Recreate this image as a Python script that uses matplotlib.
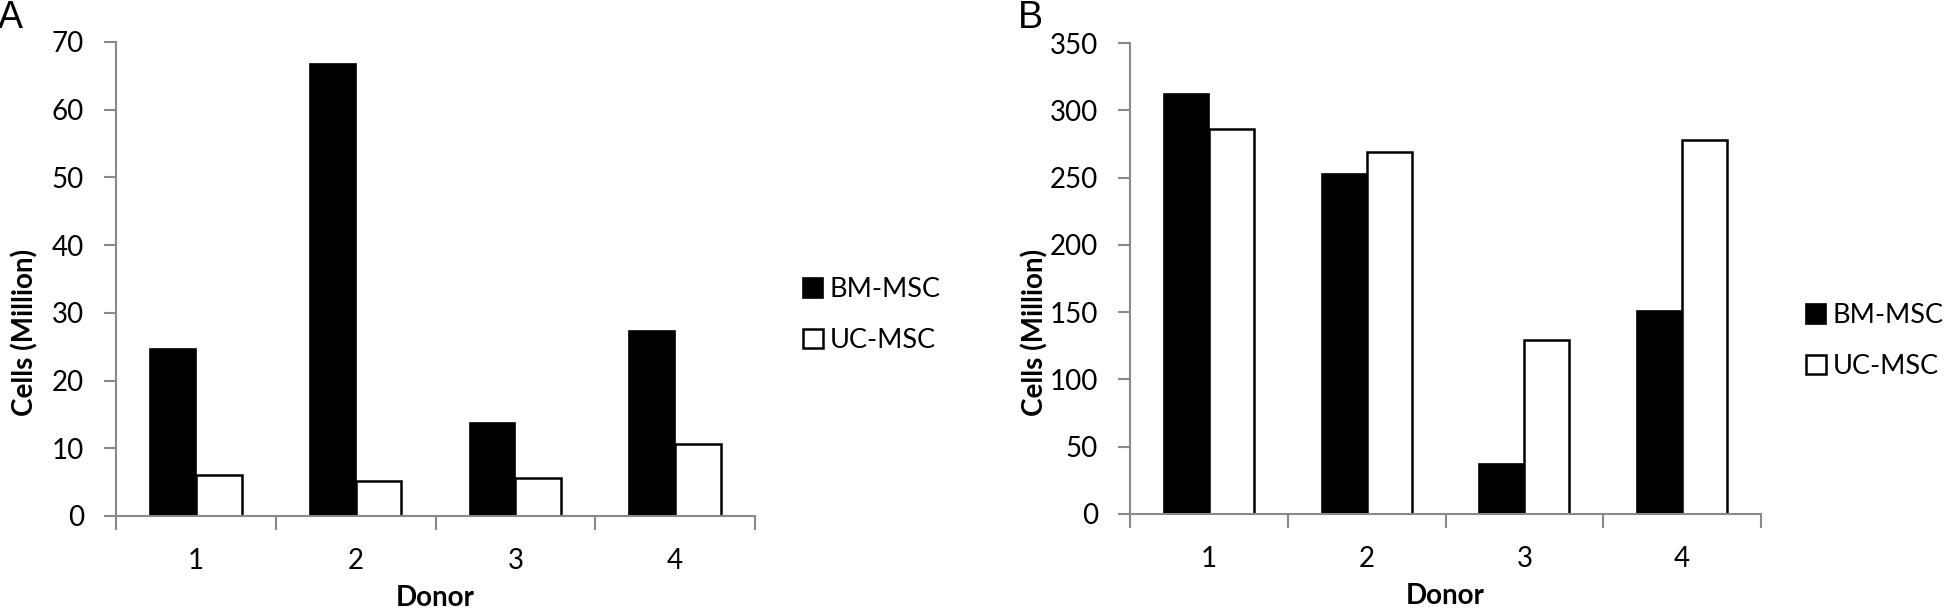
import numpy as np
import matplotlib.pyplot as plt

plt.rcParams['font.family'] = ['Lato', 'DejaVu Sans']

# -------------------------------
# data
# -------------------------------
donors = ['1', '2', '3', '4']
series = ['BM-MSC', 'UC-MSC']

# panel A
bm_a = [24.7, 66.8, 13.8, 27.3]
uc_a = [6.1, 5.1, 5.6, 10.7]

# panel B
bm_b = [312, 253, 37, 151]
uc_b = [286, 269, 129, 278]

gray = '#898989'
fs = 20

fig = plt.figure(figsize=(19.45, 6.11), dpi=100)
ax_a = fig.add_axes([116 / 1945, 95 / 611, 639 / 1945, 474 / 611])
ax_b = fig.add_axes([1130 / 1945, 97 / 611, 631 / 1945, 471 / 611])


def draw_panel(ax, bm, uc, ymax, step, letter, letter_x, ylab_x, leg_anchor):
    x = np.arange(len(donors))
    w = 0.286
    ax.bar(x - w / 2, bm, w, color='black', edgecolor='black', linewidth=1.2, label=series[0])
    ax.bar(x + w / 2, uc, w, color='white', edgecolor='black', linewidth=1.8, label=series[1])

    ax.set_xlim(-0.5, len(donors) - 0.5)
    ax.set_ylim(0, ymax)
    ax.set_yticks(np.arange(0, ymax + 1, step))
    # ticks sit between the categories, labels in the middle
    ax.set_xticks(np.arange(-0.5, len(donors), 1.0))
    ax.set_xticklabels([])
    ax.set_xticks(x, minor=True)
    ax.set_xticklabels(donors, minor=True, fontsize=fs)
    ax.tick_params(axis='x', which='minor', length=0, pad=23)
    ax.tick_params(axis='x', which='major', length=10, width=1.5, color=gray, direction='out')
    ax.tick_params(axis='y', length=9, width=1.5, color=gray, labelsize=fs, pad=14)

    for s in ['top', 'right']:
        ax.spines[s].set_visible(False)
    for s in ['left', 'bottom']:
        ax.spines[s].set_color(gray)
        ax.spines[s].set_linewidth(1.5)

    ax.set_xlabel('Donor', fontsize=fs, fontweight='bold', labelpad=8)
    ax.set_ylabel('Cells (Million)', fontsize=fs, fontweight='bold', va='center')
    ax.yaxis.set_label_coords(ylab_x / 1945, 279 / 611, transform=fig.transFigure)

    fig.text(letter_x, 1.0, letter, fontsize=27, ha='left', va='top',
             family=['Liberation Sans', 'DejaVu Sans'])

    ax.legend(loc='center left', bbox_to_anchor=leg_anchor, bbox_transform=fig.transFigure,
              frameon=False, fontsize=19.5, handlelength=0.74, handleheight=0.74,
              handletextpad=0.25, labelspacing=0.95, borderpad=0, borderaxespad=0)


draw_panel(ax_a, bm_a, uc_a, 70, 10, 'A', -0.001, 25, (803 / 1945, 1 - 315 / 611))
draw_panel(ax_b, bm_b, uc_b, 350, 50, 'B', 1018 / 1945, 1035, (1806 / 1945, 1 - 341 / 611))

fig.savefig('out.png', dpi=100)
